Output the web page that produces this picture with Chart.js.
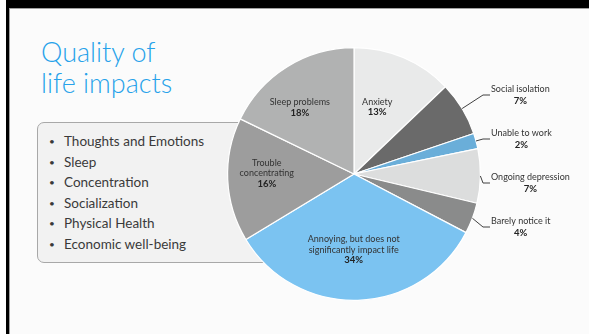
<!DOCTYPE html>
<html>
<head>
<meta charset="utf-8">
<script src="https://cdn.jsdelivr.net/npm/chart.js@4"></script>
<style>
  html, body { margin: 0; padding: 0; }
  body { width: 589px; height: 334px; overflow: hidden; background: #fff; position: relative; font-family: Lato, "Open Sans", sans-serif; }
  #slide { position: absolute; left: 9px; top: 8px; width: 590px; height: 340px; background: #fbfbfb; border-left: 1px solid #a0a0a0; border-top: 1px solid #a0a0a0; }
  #barTop { position: absolute; left: 6px; top: 0; width: 600px; height: 8px; background: #000; }
  #barLeft { position: absolute; left: 6px; top: 0; width: 3px; height: 334px; background: #000; }
  #title { position: absolute; left: 41px; top: 36px; color: #27a2ea; font-weight: 300; font-size: 27px; line-height: 31px; }
  #box { position: absolute; left: 37px; top: 122px; width: 240px; height: 139px; background: #f2f2f2; border: 1px solid #a8a8a8; border-radius: 7px; }
  #box ul { margin: 0; padding: 8px 0 0 26px; list-style: none; }
  #box li { font-size: 13.5px; line-height: 20.6px; color: #3a3a3a; position: relative; }
  #box li::before { content: "•"; position: absolute; left: -15px; font-size: 10px; }
  canvas { position: absolute; left: 0; top: 0; }
</style>
</head>
<body>
<div id="slide"></div>
<div id="barTop"></div>
<div id="barLeft"></div>
<div id="title">Quality of<br>life impacts</div>
<div id="box"><ul id="bullets"></ul></div>
<canvas id="pie" width="589" height="334"></canvas>
<script>
// Data
const categories = ['Anxiety', 'Social isolation', 'Unable to work', 'Ongoing depression', 'Barely notice it',
    'Annoying, but does not significantly impact life', 'Trouble concentrating', 'Sleep problems'];
const shares = [13, 7, 2, 7, 4, 34, 16, 18];
const sliceColors = ['#e9eaea', '#6a6a6a', '#6aaed9', '#dcdddd', '#8a8b8b', '#7bc3f1', '#9d9d9d', '#b1b2b2'];
const bulletItems = ['Thoughts and Emotions', 'Sleep', 'Concentration', 'Socialization', 'Physical Health', 'Economic well-being'];

document.getElementById('bullets').innerHTML = bulletItems.map(t => '<li>' + t + '</li>').join('');

// how each label is split into lines, and where it goes
const labelLines = [['Anxiety'], ['Social isolation'], ['Unable to work'], ['Ongoing depression'], ['Barely notice it'],
    ['Annoying, but does not', 'significantly impact life'], ['Trouble', 'concentrating'], ['Sleep problems']];
const inside = { 0: [0.56, -4], 5: [0.6, 2], 6: [0.69, 3], 7: [0.68, -7] };  // radius fraction, angle tweak (deg)
const outsideOrder = [1, 2, 3, 4];

const labelPlugin = {
    id: 'sliceLabels',
    afterDatasetsDraw(chart) {
        const ctx = chart.ctx;
        const arcs = chart.getDatasetMeta(0).data;
        ctx.save();
        ctx.textBaseline = 'middle';
        arcs.forEach((arc, i) => {
            const p = arc.getProps(['x', 'y', 'startAngle', 'endAngle', 'outerRadius'], true);
            const mid = (p.startAngle + p.endAngle) / 2;
            const lines = labelLines[i];
            const pct = shares[i] + '%';
            if (inside[i]) {
                const [f, tweak] = inside[i];
                const a = mid + tweak * Math.PI / 180;
                const cx = p.x + Math.cos(a) * p.outerRadius * f;
                const cy = p.y + Math.sin(a) * p.outerRadius * f;
                const n = lines.length + 1;
                let y = cy - (n - 1) * 10.5 / 2;
                ctx.textAlign = 'center';
                lines.forEach(l => {
                    ctx.font = '9px Lato, sans-serif';
                    ctx.fillStyle = '#333';
                    ctx.fillText(l, cx, y);
                    y += 10.5;
                });
                ctx.font = 'bold 9.5px Lato, sans-serif';
                ctx.fillStyle = '#222';
                ctx.fillText(pct, cx, y);
            } else {
                const k = outsideOrder.indexOf(i);
                const ly = 95 + 44 * k;
                const lx = 491;
                const ex = p.x + Math.cos(mid) * p.outerRadius;
                const ey = p.y + Math.sin(mid) * p.outerRadius;
                ctx.strokeStyle = '#404040';
                ctx.lineWidth = 1;
                ctx.beginPath();
                ctx.moveTo(ex, ey);
                ctx.lineTo(lx - 8, ly);
                ctx.lineTo(lx - 1, ly);
                ctx.stroke();
                ctx.font = '9px Lato, sans-serif';
                const w = ctx.measureText(lines[0]).width;
                ctx.textAlign = 'left';
                ctx.fillStyle = '#333';
                ctx.fillText(lines[0], lx, ly - 6);
                ctx.textAlign = 'center';
                ctx.font = 'bold 9.5px Lato, sans-serif';
                ctx.fillStyle = '#222';
                ctx.fillText(pct, lx + w / 2, ly + 6);
            }
        });
        ctx.restore();
    }
};

new Chart(document.getElementById('pie'), {
    type: 'pie',
    data: {
        labels: categories,
        datasets: [{
            data: shares,
            backgroundColor: sliceColors,
            borderColor: '#ffffff',
            borderWidth: 1.2
        }]
    },
    options: {
        responsive: false,
        animation: false,
        layout: { padding: { left: 227, right: 108, top: 47, bottom: 33 } },
        plugins: { legend: { display: false }, tooltip: { enabled: false } }
    },
    plugins: [labelPlugin]
});
</script>
</body>
</html>
